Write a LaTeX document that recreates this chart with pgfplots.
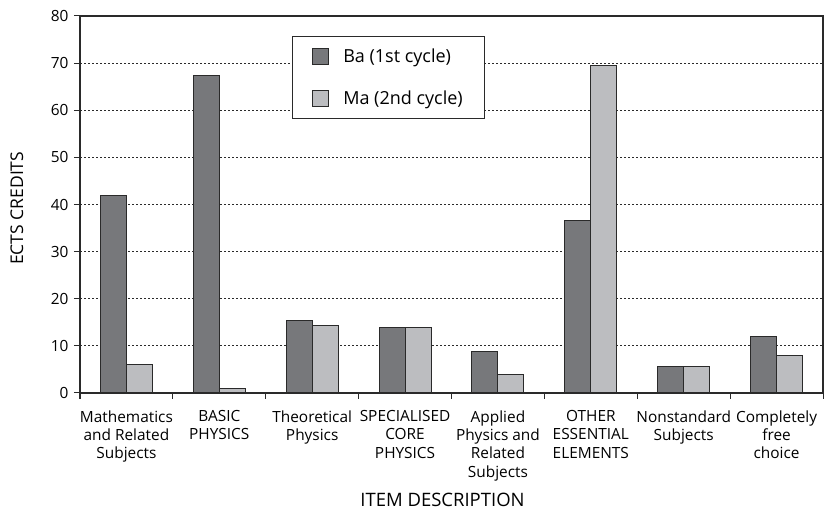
\documentclass[border=0pt]{standalone}
\usepackage{pgfplots}
\pgfplotsset{compat=1.18}
\usepackage{fontspec}
\setmainfont{Open Sans}
\definecolor{baC}{HTML}{77787B}
\definecolor{maC}{HTML}{BCBDC0}
\definecolor{edge}{HTML}{2A2A2A}
\begin{document}
\begin{tikzpicture}
\begin{axis}[
  scale only axis, width=743pt, height=377pt,
  ybar=0pt, bar width=26pt,
  xmin=-0.5, xmax=7.5, ymin=0, ymax=80,
  ytick={0,10,...,80},
  xtick={0,...,7},
  xticklabels={{Mathematics\\and Related\\Subjects},{BASIC\\PHYSICS},{Theoretical\\Physics},{SPECIALISED\\CORE\\PHYSICS},{Applied\\Physics and\\Related\\Subjects},{OTHER\\ESSENTIAL\\ELEMENTS},{Nonstandard\\Subjects},{Completely\\free\\choice}},
  x tick label style={align=center, font=\fontsize{15.4}{18.3}\selectfont, anchor=north, yshift=-8pt},
  y tick label style={font=\fontsize{15.4}{18}\selectfont, xshift=-2pt},
  /pgf/number format/assume math mode=true,
  major x tick style={draw=none},
  minor xtick={-0.5,0.5,...,7.5},
  minor x tick style={edge, line width=1pt},
  minor tick length=6pt,
  major tick length=6pt,
  tick align=outside,
  xtick pos=bottom, ytick pos=left,
  y tick style={edge, line width=1pt},
  ymajorgrids,
  major grid style={edge, line width=1.1pt, dash pattern=on 2pt off 2pt},
  axis line style={edge, line width=1.2pt},
  xlabel={ITEM DESCRIPTION},
  ylabel={ECTS CREDITS},
  xlabel style={at={(axis description cs:0.5,0)}, anchor=base, yshift=-114pt, xshift=-9pt, font=\fontsize{18.5}{20}\selectfont},
  ylabel style={at={(axis description cs:-0.0767,0.49)}, anchor=base, font=\fontsize{17.5}{20}\selectfont},
  legend style={at={(0.285,0.947)}, anchor=north west, draw=edge, line width=1pt, fill=white,
    font=\fontsize{18}{20}\selectfont, inner xsep=20pt, inner ysep=10.5pt, row sep=23pt, column sep=12pt},
  legend cell align=left,
  legend image code/.code={\draw[#1, line width=1pt] (0pt,-8pt) rectangle (16pt,8pt);},
]
\addplot[fill=baC, draw=edge, line width=1pt] coordinates {(0,42) (1,67.3) (2,15.3) (3,14) (4,8.9) (5,36.7) (6,5.7) (7,11.9)};
\addplot[fill=maC, draw=edge, line width=1pt] coordinates {(0,6) (1,1) (2,14.4) (3,14) (4,4) (5,69.4) (6,5.7) (7,7.9)};
\legend{Ba (1st cycle),Ma (2nd cycle)}
\coordinate (O) at (rel axis cs:0,0);
\coordinate (T) at (rel axis cs:1,1);
\end{axis}
\pgfresetboundingbox
\path ([shift={(-80pt,-120pt)}]O) rectangle ([shift={(9pt,16pt)}]T);
\end{tikzpicture}
\end{document}
